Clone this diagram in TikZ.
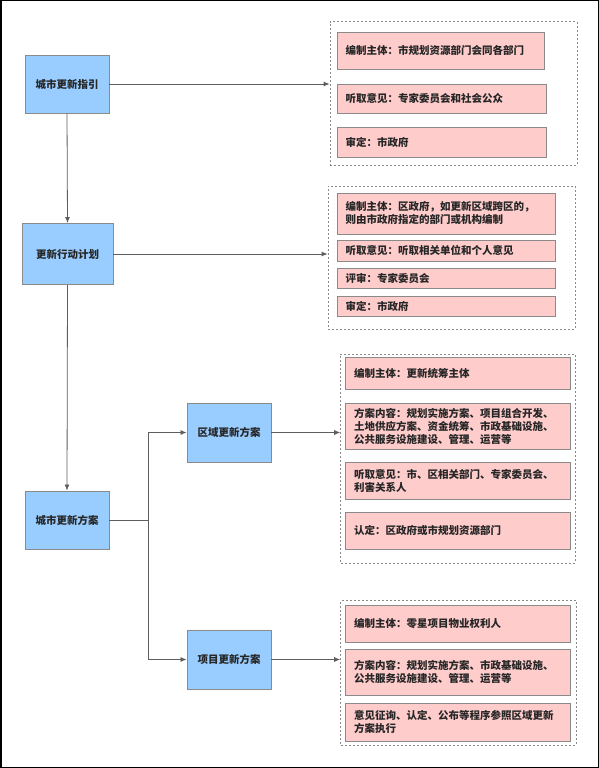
\documentclass[tikz,border=0pt]{standalone}
\usepackage{fontspec}
\setmainfont{Noto Sans CJK SC}
\usetikzlibrary{arrows.meta}
\definecolor{stageblue}{HTML}{99CCFF}
\definecolor{itempink}{HTML}{FFCCCC}
\definecolor{edgegray}{HTML}{5E5E5E}
\definecolor{framegray}{HTML}{8A8A8A}
\definecolor{textdark}{HTML}{262626}
\tikzset{
  stage/.style={draw=framegray, fill=stageblue, line width=0.9pt, rectangle, minimum width=84, minimum height=58, align=center, text=textdark, font=\fontsize{10.5}{13}\selectfont\bfseries},
  item/.style={draw=framegray, fill=itempink, line width=0.9pt, rectangle, inner xsep=8.5pt, inner ysep=2pt, align=left, text=textdark, font=\fontsize{10.5}{13}\selectfont\bfseries},
  group/.style={draw=framegray, dash pattern=on 2pt off 2pt, line width=0.8pt, rectangle, inner sep=0pt},
  link/.style={draw=edgegray, line width=0.8pt},
  flow/.style={link, -{Latex[length=6pt, width=5pt]}}
}
\begin{document}
\begin{tikzpicture}[x=1pt, y=-1pt]
\useasboundingbox (0,0) rectangle (599,768);
\draw[black, line width=1.5pt] (0.75,0.75) rectangle (598.25,767.25);
\node[stage] (zhiyin) at (67, 84) {城市更新指引};
\node[stage, minimum width=91, minimum height=61] (jihua) at (67.5, 254) {更新行动计划};
\node[stage] (fangan) at (67, 520) {城市更新方案};
\node[stage, minimum height=59] (quyu) at (229, 432.5) {区域更新方案};
\node[stage, minimum height=59] (xiangmu) at (229, 659.5) {项目更新方案};
\node[group, minimum width=247, minimum height=143.3] (grpA) at (453.5, 93.35) {};
\node[group, minimum width=247, minimum height=143] (grpB) at (451.5, 257.5) {};
\node[group, minimum width=234.4, minimum height=209] (grpC) at (457.8, 458.5) {};
\node[group, minimum width=235.4, minimum height=144.3] (grpD) at (458.3, 672.85) {};
\node[item, minimum width=207, minimum height=37, text width=190] (zhiyinA) at (440.5, 50.5) {编制主体：市规划资源部门会同各部门};
\node[item, minimum width=209, minimum height=29, text width=192] (zhiyinB) at (441.5, 98.5) {听取意见：专家委员会和社会公众};
\node[item, minimum width=209, minimum height=30, text width=192] (zhiyinC) at (441.5, 142) {审定：市政府};
\node[item, minimum width=218, minimum height=41, text width=201] (jihuaA) at (446, 213.5) {编制主体：区政府，如更新区域跨区的，\\则由市政府指定的部门或机构编制};
\node[item, minimum width=218, minimum height=21, text width=201] (jihuaB) at (446, 250.5) {听取意见：听取相关单位和个人意见};
\node[item, minimum width=218, minimum height=20, text width=201] (jihuaC) at (446, 278) {评审：专家委员会};
\node[item, minimum width=218, minimum height=20, text width=201] (jihuaD) at (446, 306) {审定：市政府};
\node[item, minimum width=224.4, minimum height=32, text width=207.4] (quyuA) at (457.8, 373) {编制主体：更新统筹主体};
\node[item, minimum width=224.4, minimum height=46, text width=207.4] (quyuB) at (457.8, 426) {方案内容：规划实施方案、项目组合开发、\\土地供应方案、资金统筹、市政基础设施、\\公共服务设施建设、管理、运营等};
\node[item, minimum width=224.4, minimum height=37, text width=207.4] (quyuC) at (457.8, 480.5) {听取意见：市、区相关部门、专家委员会、\\利害关系人};
\node[item, minimum width=224.4, minimum height=37, text width=207.4] (quyuD) at (457.8, 530.5) {认定：区政府或市规划资源部门};
\node[item, minimum width=224.4, minimum height=37, text width=207.4] (xiangmuA) at (457.8, 623.5) {编制主体：零星项目物业权利人};
\node[item, minimum width=224.4, minimum height=46, text width=207.4] (xiangmuB) at (457.8, 672) {方案内容：规划实施方案、市政基础设施、\\公共服务设施建设、管理、运营等};
\node[item, minimum width=224.4, minimum height=38, text width=207.4] (xiangmuC) at (457.8, 722) {意见征询、认定、公布等程序参照区域更新\\方案执行};
\coordinate (fork) at (148, 520);
\draw[flow] (zhiyin.south) -- (jihua.north);
\draw[flow] (jihua.south) -- (fangan.north);
\draw[flow] (zhiyin.east) -- (zhiyin.east -| grpA.west);
\draw[flow] (jihua.east) -- (jihua.east -| grpB.west);
\draw[link] (fangan.east) -- (fork);
\draw[flow] (fork) |- (quyu.west);
\draw[flow] (fork) |- (xiangmu.west);
\draw[flow] (quyu.east) -- (quyu.east -| grpC.west);
\draw[flow] (xiangmu.east) -- (xiangmu.east -| grpD.west);
\end{tikzpicture}
\end{document}
